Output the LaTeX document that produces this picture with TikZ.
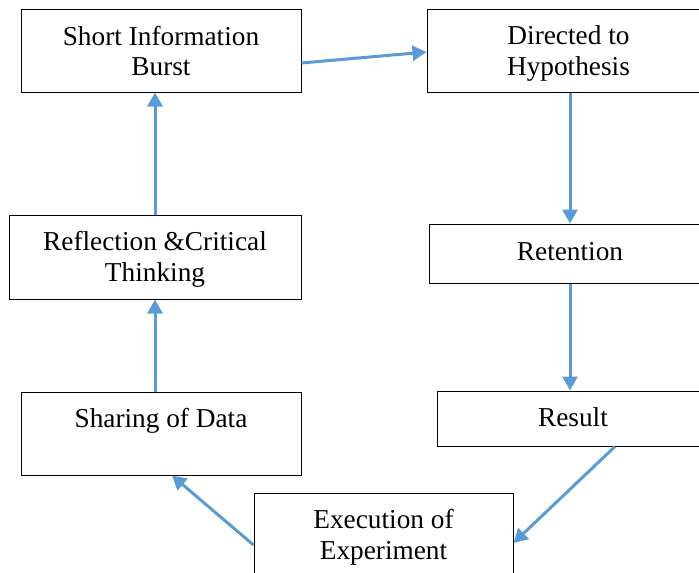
\documentclass[tikz,border=0pt]{standalone}
\usepackage{fontspec}
\setmainfont{Liberation Serif}
\usetikzlibrary{arrows.meta,calc}
\definecolor{flowblue}{HTML}{5B9BD5}
\tikzset{
  stagebox/.style={draw=black, line width=1pt, rectangle, inner sep=0pt},
  stagetext/.style={align=center, inner sep=0pt, anchor=base,
    font=\fontsize{27.3}{30.5}\selectfont},
  flow/.style={draw=flowblue, line width=3pt,
    -{Triangle[width=15pt,length=14pt]}}
}
\begin{document}
\begin{tikzpicture}[x=1pt,y=-1pt]
\useasboundingbox (0,0) rectangle (699,573);
\clip (0,0) rectangle (699,573);

% boxes of the cycle
\node[stagebox, minimum width=280pt, minimum height=83pt] (b1) at (161,50.5) {};
\node[stagebox, minimum width=283pt, minimum height=83pt] (b2) at (568.5,50.5) {};
\node[stagebox, minimum width=292pt, minimum height=84pt] (b3) at (155,257) {};
\node[stagebox, minimum width=282pt, minimum height=59pt] (b4) at (570,253.5) {};
\node[stagebox, minimum width=280pt, minimum height=83pt] (b5) at (161,433.5) {};
\node[stagebox, minimum width=272pt, minimum height=55pt] (b6) at (573,418.5) {};
\node[stagebox, minimum width=259pt, minimum height=83pt] (b7) at (383.5,534.5) {};

% captions (base anchor sits on the last line)
\node[stagetext] (t1) at (161,75.5) {Short Information\\Burst};
\node[stagetext] (t2) at (568.5,75) {Directed to\\Hypothesis};
\node[stagetext] (t3) at (155,281) {Reflection \&Critical\\Thinking};
\node[stagetext] (t4) at (570,260) {Retention};
\node[stagetext] (t5) at (161,427) {Sharing of Data};
\node[stagetext] (t6) at (573,426) {Result};
\node[stagetext] (t7) at (383.5,559) {Execution of\\Experiment};

% connectors
\draw[flow] ([yshift=-12.5pt]b1.east) -- ([yshift=-1.5pt]b2.west);
\draw[flow] (b4.north |- b2.south) -- (b4.north);
\draw[flow] (b4.south) -- (b4.south |- b6.north);
\draw[flow] ([xshift=42pt]b6.south) -- ([yshift=-8.5pt]b7.east);
\draw[flow] ([yshift=-10.5pt]b7.west) -- ([xshift=11pt]b5.south);
\draw[flow] (b3.south |- b5.north) -- (b3.south);
\draw[flow] (b3.north) -- (b3.north |- b1.south);
\end{tikzpicture}
\end{document}
